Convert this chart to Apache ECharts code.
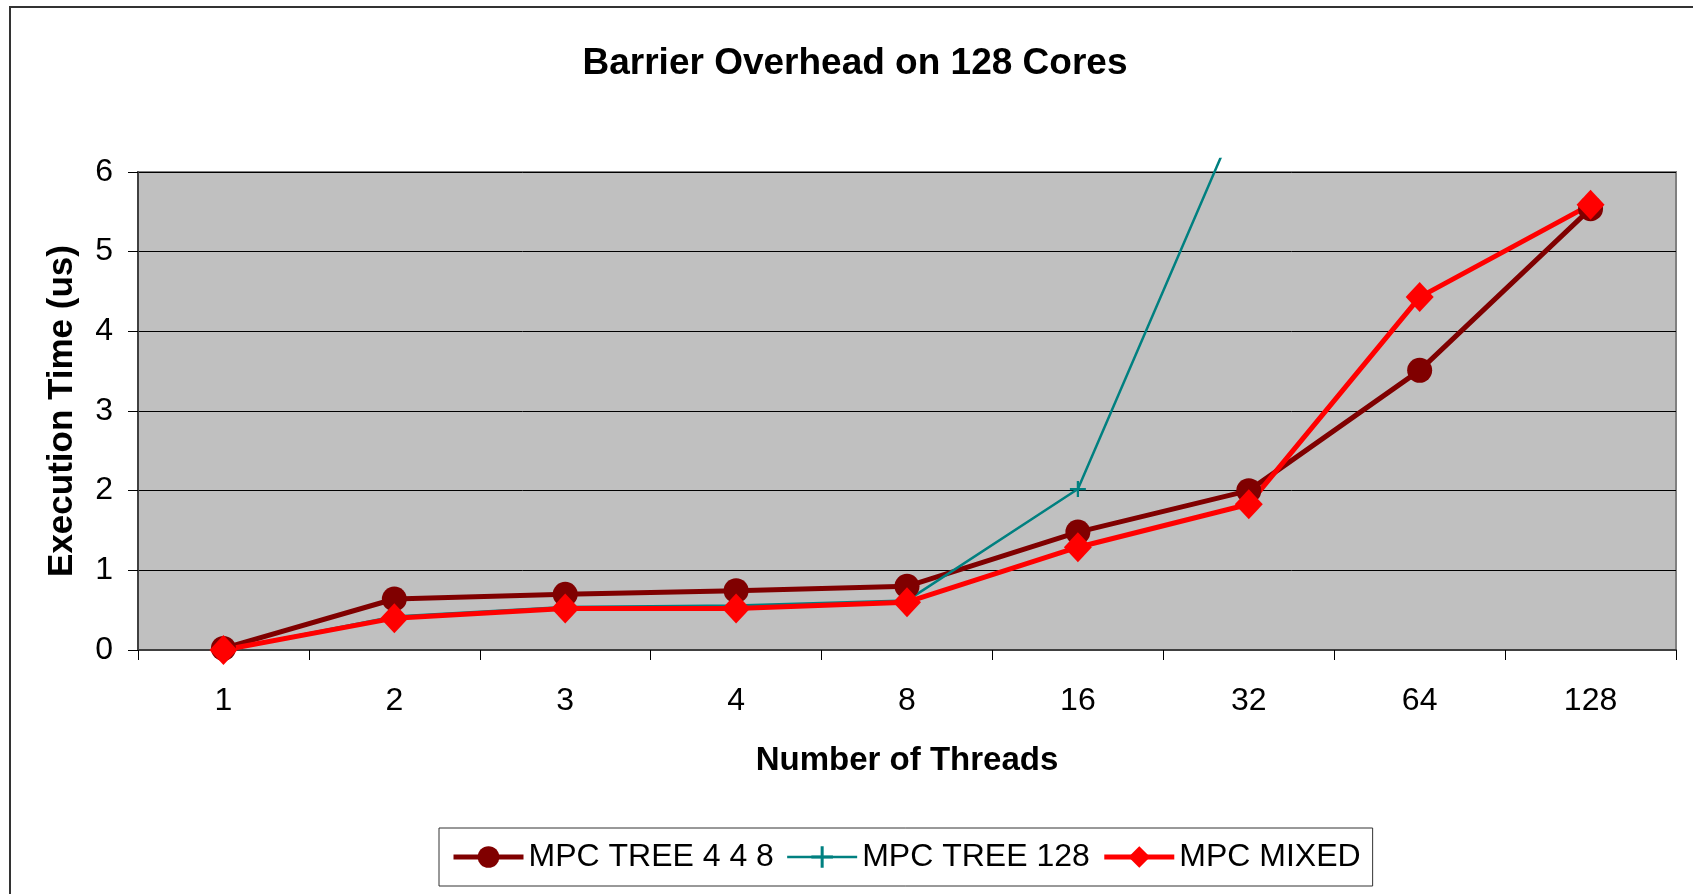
<!DOCTYPE html>
<html>
<head>
<meta charset="utf-8">
<title>Barrier Overhead on 128 Cores</title>
<script src="https://cdn.jsdelivr.net/npm/echarts@6/dist/echarts.min.js"></script>
<style>
  html, body { margin: 0; padding: 0; background: #ffffff; }
  #chart { width: 1693px; height: 894px; }
</style>
</head>
<body>
<div id="chart"></div>
<script>
// Thread counts on the category axis
const threadCounts = ['1', '2', '3', '4', '8', '16', '32', '64', '128'];

// Barrier execution time in microseconds
const tree448 = [0.02, 0.64, 0.70, 0.745, 0.80, 1.48, 2.00, 3.51, 5.54];
const tree128 = [0.00, 0.42, 0.54, 0.56, 0.62, 2.02, 7.00, null, null];
const mixed   = [0.00, 0.40, 0.52, 0.52, 0.60, 1.29, 1.83, 4.43, 5.59];

// Value axis range
const yMin = 0;
const yMax = 6;
const yStep = 1;

// Plot area geometry (px)
const W = 1693, H = 894;
const plot = { left: 138, top: 172, right: 17, bottom: 244 };
// The steep TREE 128 line runs a little past the top of the plot before it is cut off
const clipTop = 159;
const unitPx = (H - plot.bottom - plot.top) / (yMax - yMin);
const yMaxClip = yMax + (plot.top - clipTop) / unitPx;

const FONT = '"Liberation Sans", Arial, sans-serif';
const crossSymbol = 'path://M4.3,0H5.7V4.3H10V5.7H5.7V10H4.3V5.7H0V4.3H4.3Z';

const chart = echarts.init(document.getElementById('chart'), null, { renderer: 'canvas' });

chart.setOption({
  animation: false,
  backgroundColor: '#ffffff',
  textStyle: { fontFamily: FONT },
  graphic: [
    {
      type: 'rect',
      z: -10,
      shape: { x: 10, y: 7, width: W + 20, height: H + 20 },
      style: { fill: 'none', stroke: '#333333', lineWidth: 2 }
    },
    {
      type: 'text',
      x: 855,
      y: 64,
      style: {
        text: 'Barrier Overhead on 128 Cores',
        fontFamily: FONT,
        fontSize: 37,
        fontWeight: 'bold',
        fill: '#000000',
        align: 'center',
        verticalAlign: 'middle'
      }
    }
  ],
  grid: [
    {
      left: plot.left, top: plot.top, right: plot.right, bottom: plot.bottom,
      show: true,
      backgroundColor: '#C0C0C0',
      borderColor: '#808080',
      borderWidth: 2
    },
    {
      left: plot.left, top: clipTop, right: plot.right, bottom: plot.bottom,
      show: false
    }
  ],
  xAxis: [
    {
      type: 'category',
      gridIndex: 0,
      data: threadCounts,
      boundaryGap: true,
      name: 'Number of Threads',
      nameLocation: 'middle',
      nameGap: 94,
      nameTextStyle: { fontFamily: FONT, fontSize: 33, fontWeight: 'bold', color: '#000000' },
      axisLine: { show: true, lineStyle: { color: '#404040', width: 2 } },
      axisTick: { show: true, inside: false, length: 10, lineStyle: { color: '#000000', width: 1 } },
      axisLabel: { show: true, margin: 35, fontFamily: FONT, fontSize: 32, color: '#000000' },
      splitLine: { show: false }
    },
    {
      type: 'category',
      gridIndex: 1,
      data: threadCounts,
      boundaryGap: true,
      show: false
    }
  ],
  yAxis: [
    {
      type: 'value',
      gridIndex: 0,
      min: yMin,
      max: yMax,
      interval: yStep,
      name: 'Execution Time (us)',
      nameLocation: 'middle',
      nameRotate: 90,
      nameGap: 58,
      nameTextStyle: { fontFamily: FONT, fontSize: 35, fontWeight: 'bold', color: '#000000' },
      axisLine: { show: true, lineStyle: { color: '#404040', width: 2 } },
      axisTick: { show: true, inside: false, length: 10, lineStyle: { color: '#000000', width: 1 } },
      axisLabel: { show: true, margin: 25, fontFamily: FONT, fontSize: 32, color: '#000000' },
      splitLine: { show: true, lineStyle: { color: '#000000', width: 1 } }
    },
    {
      type: 'value',
      gridIndex: 1,
      min: yMin,
      max: yMaxClip,
      show: false,
      splitLine: { show: false }
    }
  ],
  legend: {
    left: 439,
    top: 828,
    orient: 'horizontal',
    itemWidth: 70,
    itemHeight: 27,
    itemGap: 12,
    padding: [13, 12],
    borderColor: '#333333',
    borderWidth: 1,
    backgroundColor: '#ffffff',
    selectedMode: false,
    textStyle: { fontFamily: FONT, fontSize: 32, color: '#000000' },
    data: [
      { name: 'MPC TREE 4 4 8', lineStyle: { width: 5 } },
      { name: 'MPC TREE 128', lineStyle: { width: 2.5 } },
      { name: 'MPC MIXED', lineStyle: { width: 5 } }
    ]
  },
  series: [
    {
      name: 'MPC TREE 4 4 8',
      type: 'line',
      xAxisIndex: 0,
      yAxisIndex: 0,
      data: tree448,
      symbol: 'circle',
      symbolSize: 25,
      showSymbol: true,
      showAllSymbol: true,
      color: '#800000',
      lineStyle: { color: '#800000', width: 5 },
      itemStyle: { color: '#800000' },
      silent: true
    },
    {
      name: 'MPC TREE 128',
      type: 'line',
      xAxisIndex: 1,
      yAxisIndex: 1,
      data: tree128,
      clip: true,
      symbol: crossSymbol,
      symbolSize: 16,
      showSymbol: true,
      showAllSymbol: true,
      color: '#008080',
      lineStyle: { color: '#008080', width: 2.5 },
      itemStyle: { color: '#008080' },
      silent: true
    },
    {
      name: 'MPC MIXED',
      type: 'line',
      xAxisIndex: 0,
      yAxisIndex: 0,
      data: mixed,
      symbol: 'diamond',
      symbolSize: [28, 30],
      showSymbol: true,
      showAllSymbol: true,
      color: '#FF0000',
      lineStyle: { color: '#FF0000', width: 5 },
      itemStyle: { color: '#FF0000' },
      silent: true
    }
  ]
});
</script>
</body>
</html>
